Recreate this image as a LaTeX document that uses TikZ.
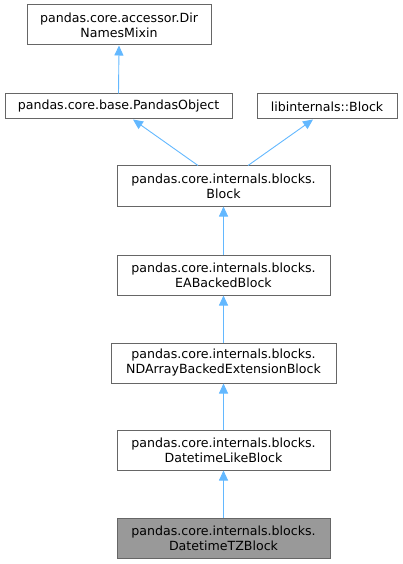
\documentclass[tikz,border=0pt]{standalone}
\usepackage{fontspec}
\setmainfont{DejaVu Sans}
\usetikzlibrary{arrows.meta}
\definecolor{edgeblue}{HTML}{63B8FF}
\definecolor{boxline}{HTML}{666666}
\definecolor{boxgray}{HTML}{999999}
\begin{document}
\begin{tikzpicture}[x=1pt,y=-1pt,
  cls/.style={draw=boxline,line width=1pt,inner sep=0pt,align=center,font=\fontsize{12.6}{15}\selectfont},
  inh/.style={draw=edgeblue,line width=0.9pt,-{Triangle[length=10pt,width=9pt,fill=edgeblue]}}]
\useasboundingbox (0,0) rectangle (402,564);
\node[cls,minimum width=184pt,minimum height=40pt] (dir) at (119,25) {pandas.core.accessor.Dir\\NamesMixin};
\node[cls,minimum width=227pt,minimum height=25pt] (po) at (118.5,106.5) {pandas.core.base.PandasObject};
\node[cls,minimum width=140pt,minimum height=25pt] (lib) at (327,106.5) {libinternals::Block};
\node[cls,minimum width=213pt,minimum height=40pt] (blk) at (223.5,186) {pandas.core.internals.blocks.\\Block};
\node[cls,minimum width=213pt,minimum height=40pt] (ea) at (223.5,275) {pandas.core.internals.blocks.\\EABackedBlock};
\node[cls,minimum width=225pt,minimum height=40pt] (nd) at (223.5,363) {pandas.core.internals.blocks.\\NDArrayBackedExtensionBlock};
\node[cls,minimum width=213pt,minimum height=40pt] (dl) at (223.5,450) {pandas.core.internals.blocks.\\DatetimeLikeBlock};
\node[cls,fill=boxgray,minimum width=213pt,minimum height=40pt] (tz) at (223.5,538) {pandas.core.internals.blocks.\\DatetimeTZBlock};
\draw[inh] (po.north) -- (dir.south);
\draw[inh] ([xshift=-25.5pt]blk.north) -- ([xshift=14.5pt]po.south);
\draw[inh] ([xshift=24.5pt]blk.north) -- ([xshift=-14pt]lib.south);
\draw[inh] (ea) -- (blk);
\draw[inh] (nd) -- (ea);
\draw[inh] (dl) -- (nd);
\draw[inh] (tz) -- (dl);
\end{tikzpicture}
\end{document}
